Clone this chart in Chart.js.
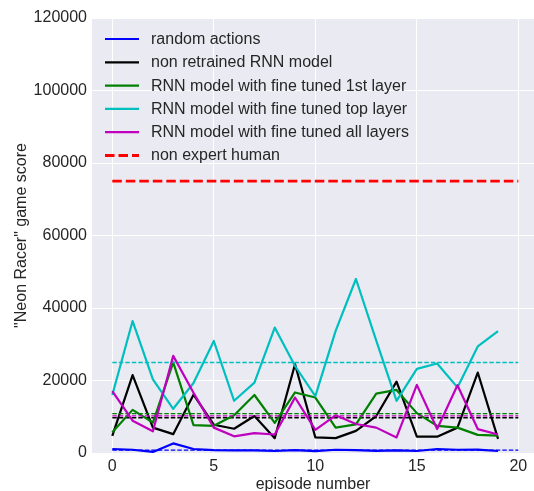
<!DOCTYPE html>
<html>
<head>
<meta charset="utf-8">
<script src="https://cdn.jsdelivr.net/npm/chart.js@4.4.1/dist/chart.umd.min.js"></script>
<style>
  html, body { margin: 0; padding: 0; background: #ffffff; }
  canvas { display: block; }
</style>
</head>
<body>
<canvas id="c" width="534" height="491"></canvas>
<script>
// ---- data ----
const episodes = [0,1,2,3,4,5,6,7,8,9,10,11,12,13,14,15,16,17,18,19];
const randomActions = [1100, 900, 300, 2650, 1100, 800, 750, 700, 550, 800, 500, 900, 800, 600, 750, 550, 1100, 900, 950, 550];
const nonRetrained  = [4700, 21500, 7000, 5200, 16100, 7800, 6700, 10200, 4100, 24500, 4300, 4100, 6100, 10200, 19700, 4500, 4500, 7000, 22200, 3900];
const fineTuned1st  = [5700, 11900, 8400, 25000, 7700, 7500, 10400, 16000, 8300, 16700, 15300, 7000, 7900, 16400, 17400, 11000, 7500, 7000, 5000, 4800];
const fineTunedTop  = [16000, 36400, 20300, 12200, 19300, 30900, 14400, 19400, 34600, 24000, 15700, 33700, 48000, 31000, 14400, 23200, 24700, 18100, 29400, 33600];
const fineTunedAll  = [17100, 8900, 6000, 26800, 16600, 7000, 4600, 5500, 5100, 15300, 6400, 10400, 8000, 7000, 4300, 18800, 6600, 18700, 6600, 5100];
const meanLevels    = [800, 9720, 10840, 24960, 10240];   // dashed average lines (same order as series)
const humanLevel    = 75000;
const levelSpan     = [0, 20];                             // x extent of the dashed lines
const seriesNames = [
  'random actions',
  'non retrained RNN model',
  'RNN model with fine tuned 1st layer',
  'RNN model with fine tuned top layer',
  'RNN model with fine tuned all layers'
];
const humanName = 'non expert human';
const xTickValues = [0, 5, 10, 15, 20];
const yTickValues = [0, 20000, 40000, 60000, 80000, 100000, 120000];
const xTitle = 'episode number';
const yTitle = '"Neon Racer" game score';

// ---- styling ----
const seriesColors = ['#0000ff', '#000000', '#008000', '#00bfbf', '#bf00bf'];
const FONT = "'Liberation Sans', Arial, sans-serif";
const TEXT = '#262626';

const seriesValues = [randomActions, nonRetrained, fineTuned1st, fineTunedTop, fineTunedAll];
const datasets = [];
seriesValues.forEach((vals, i) => {
  datasets.push({
    label: seriesNames[i],
    data: episodes.map((e, k) => ({x: e, y: vals[k]})),
    borderColor: seriesColors[i],
    borderWidth: 2.2,
    showInLegend: true
  });
  datasets.push({
    label: seriesNames[i] + ' (mean)',
    data: levelSpan.map(x => ({x: x, y: meanLevels[i]})),
    borderColor: seriesColors[i],
    borderWidth: 1.3,
    borderDash: [4.5, 2],
    showInLegend: false
  });
});
datasets.push({
  label: humanName,
  data: levelSpan.map(x => ({x: x, y: humanLevel})),
  borderColor: '#ff0000',
  borderWidth: 2.9,
  borderDash: [9.5, 4],
  showInLegend: true
});
datasets.forEach((d, i) => {
  d.order = datasets.length - i;   // later datasets on top (matplotlib order)
  d.pointRadius = 0;
  d.pointHoverRadius = 0;
  d.tension = 0;
  d.fill = false;
  d.borderCapStyle = 'butt';
  d.borderJoinStyle = 'round';
});

const bgPlugin = {
  id: 'bg',
  beforeDraw(chart) {
    const {ctx, chartArea: a} = chart;
    ctx.save();
    ctx.fillStyle = '#ffffff';
    ctx.fillRect(0, 0, chart.width, chart.height);
    ctx.fillStyle = '#eaeaf2';
    ctx.fillRect(a.left, a.top, a.right - a.left, a.bottom - a.top);
    ctx.restore();
  }
};

const legendPlugin = {
  id: 'innerLegend',
  afterDatasetsDraw(chart) {
    const ctx = chart.ctx;
    const items = chart.data.datasets.filter(d => d.showInLegend);
    const x0 = 105, x1 = 139, tx = 151, y0 = 39, dy = 23.3;
    ctx.save();
    ctx.font = '16px ' + FONT;
    ctx.textBaseline = 'middle';
    ctx.textAlign = 'left';
    items.forEach((d, i) => {
      const y = y0 + i * dy;
      ctx.strokeStyle = d.borderColor;
      ctx.lineWidth = d.borderWidth;
      ctx.setLineDash(d.borderDash || []);
      ctx.beginPath();
      ctx.moveTo(x0, y);
      ctx.lineTo(x1, y);
      ctx.stroke();
      ctx.setLineDash([]);
      ctx.fillStyle = TEXT;
      ctx.fillText(d.label, tx, y + 0.5);
    });
    ctx.restore();
  }
};

new Chart(document.getElementById('c'), {
  type: 'line',
  data: { datasets },
  options: {
    responsive: false,
    animation: false,
    devicePixelRatio: 1,
    layout: { padding: { top: 18, left: 0, right: 0, bottom: 0 } },
    plugins: { legend: { display: false }, tooltip: { enabled: false } },
    scales: {
      x: {
        type: 'linear',
        min: -1,
        max: 20.77,
        afterBuildTicks: s => { s.ticks = xTickValues.map(v => ({value: v})); },
        afterFit: s => { s.height = 38; },
        grid: { color: '#ffffff', lineWidth: 1, drawTicks: false },
        border: { display: false },
        ticks: { color: TEXT, font: { family: FONT, size: 16 }, padding: 4, maxRotation: 0, callback: v => String(v) },
        title: { display: true, text: xTitle, color: TEXT, font: { family: FONT, size: 16, lineHeight: 1 }, padding: { top: 0, bottom: -2 } }
      },
      y: {
        type: 'linear',
        min: 0,
        max: 120000,
        afterBuildTicks: s => { s.ticks = yTickValues.map(v => ({value: v})); },
        afterFit: s => { s.width = 92; },
        grid: { color: '#ffffff', lineWidth: 1, drawTicks: false },
        border: { display: false },
        ticks: { color: TEXT, font: { family: FONT, size: 16 }, padding: 5, callback: v => String(v) },
        title: { display: true, text: yTitle, color: TEXT, font: { family: FONT, size: 16, lineHeight: 1 }, padding: { top: 14, bottom: 0 } }
      }
    }
  },
  plugins: [bgPlugin, legendPlugin]
});
</script>
</body>
</html>
